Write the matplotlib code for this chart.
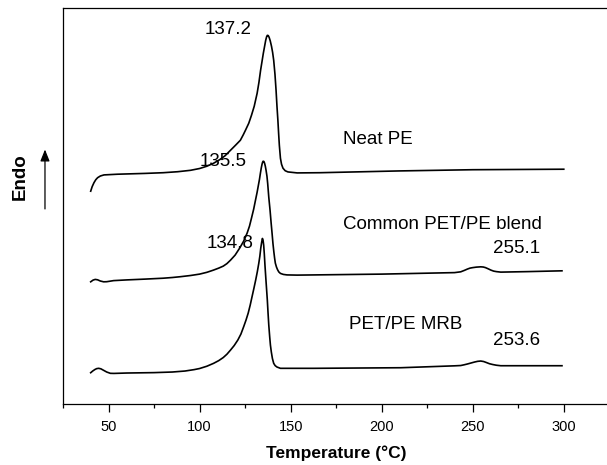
import numpy as np
import matplotlib
matplotlib.use("Agg")
from matplotlib import pyplot as plt
from matplotlib.ticker import MultipleLocator

plt.rcParams['font.family'] = ['Liberation Sans', 'DejaVu Sans']

# DSC heating curves, heat flow in arbitrary units (endo up, curves offset)
t_neat = [40.2, 41, 42, 43, 44, 45.5, 47.5, 55, 70, 80, 88, 95, 100, 104, 107.7, 111, 114,
          117, 120, 122.4, 124, 125.2, 127, 128.5, 130, 131.6, 132.6, 133.5, 134.3, 135,
          135.7, 136.3, 136.8, 137.2, 137.7, 138.2, 138.8, 139.5, 140.1, 140.7, 141.4, 142,
          142.5, 143, 143.4, 143.8, 144.4, 145, 145.8, 147, 148.5, 150, 153.6, 166, 210,
          250, 300]
h_neat = [213, 217.5, 221.5, 224.5, 226.5, 228.2, 229.3, 230, 230.8, 231.5, 232.5, 233.9,
          235.7, 238, 241, 244.5, 248.5, 254, 259.5, 264, 269.5, 274, 281, 289, 298, 311,
          322, 334, 343, 351, 358, 364, 367.5, 369, 368.8, 367, 363.5, 358, 352, 344, 330,
          314, 298, 284, 271, 259, 246, 240, 236, 233.5, 232.3, 232, 231.3, 231.5, 233.3,
          234.5, 235]

t_blend = [40.2, 41.5, 42.7, 44, 45.5, 47.3, 49, 52.8, 60, 70, 80, 85, 89.4, 95, 100, 104,
           107.6, 110.5, 113, 115, 117, 119.5, 122, 124.2, 126.1, 127.4, 128.5, 129.7, 130.7,
           131.6, 132.3, 132.9, 133.4, 133.9, 134.3, 134.6, 134.9, 135.3, 135.7, 136.1, 136.5,
           137, 137.4, 138, 138.7, 139.3, 139.8, 140.3, 140.8, 141.2, 141.6, 142.2, 142.8,
           143.5, 144.4, 146, 148, 153.6, 200, 240, 243.4, 245.5, 247, 248.5, 250, 252, 254.4,
           255.8, 257, 258.5, 260, 261.5, 263, 265.4, 280, 299]
h_blend = [122.3, 124, 124.7, 124.3, 123.1, 122.3, 122.4, 123.5, 124.2, 125, 125.9, 126.6,
           127.4, 128.6, 130, 131.8, 134, 136, 138, 140.5, 144, 149, 156, 163, 171, 178, 186,
           195, 204, 212, 219, 225, 231, 236.5, 240, 242, 243, 242.8, 241, 238, 234, 228,
           220.7, 207, 194, 181, 171, 160.5, 152, 146, 141, 137.2, 134.5, 132.2, 130.7,
           129.7, 129.2, 129, 130, 131.5, 132.3, 133.8, 135, 136, 136.5, 137, 137.3, 137.1,
           136.5, 135.3, 134, 133, 132.5, 132, 132.5, 133.3]

t_mrb = [40.2, 41.3, 42.5, 43.5, 44.6, 45.8, 47, 49, 51, 53, 60, 75, 85, 92, 97, 100, 104,
         107.7, 110.5, 113, 115, 117, 119, 121, 122.7, 124.2, 125.5, 126.7, 127.8, 128.8,
         129.8, 130.8, 131.7, 132.5, 133.1, 133.6, 134.1, 134.5, 134.85, 135.2, 135.55,
         135.9, 136.3, 136.7, 137.2, 137.6, 138, 138.5, 138.9, 139.4, 140, 140.7, 141.5,
         142.5, 144.4, 162.7, 210.5, 240, 243.4, 245.2, 247, 249, 251, 252.7, 254.4, 256,
         257.5, 259.2, 261, 263, 265.4, 299]
h_mrb = [31.3, 33, 34.5, 35.4, 35.7, 35.2, 34, 32, 30.7, 30.6, 31, 31.4, 32, 33, 34.4, 35.5,
         37.8, 40.7, 43.4, 46.5, 49.8, 54, 58.5, 64, 70, 77.3, 84, 91, 99, 107.3, 115.5,
         124, 132.3, 140.7, 148, 156, 162, 165.7, 164, 159, 150, 139, 128, 117.3, 104, 91,
         79, 67.3, 59, 52, 45.5, 40.7, 38.4, 37, 35.7, 35.7, 36.3, 38.2, 38.5, 39.2, 40,
         41, 42, 42.7, 43, 42.5, 41.5, 40.3, 39.5, 38.8, 38.3, 38.3]

peak_labels = ["137.2", "135.5", "134.8", "255.1", "253.6"]
curve_names = ["Neat PE", "Common PET/PE blend", "PET/PE MRB"]

fig = plt.figure(figsize=(6.07, 4.65), dpi=100)
ax = fig.add_axes([0.1038, 0.1312, 0.9, 0.8508])

for t, h in [(t_neat, h_neat), (t_blend, h_blend), (t_mrb, h_mrb)]:
    ax.plot(t, h, color='black', lw=1.2)

ax.set_xlim(25, 325)
ax.set_ylim(0, 396)
ax.xaxis.set_major_locator(MultipleLocator(50))
ax.xaxis.set_minor_locator(MultipleLocator(25))
ax.tick_params(axis='x', which='major', direction='out', length=5.5, width=0.9, labelsize=10.5, pad=6)
ax.tick_params(axis='x', which='minor', direction='out', length=2.7, width=0.9)
ax.set_yticks([])
for s in ax.spines.values():
    s.set_linewidth(0.9)
ax.set_xlabel("Temperature (°C)", fontsize=12.5, fontweight='bold', labelpad=8)

fs = 13.5
ax.text(115.8, 375, peak_labels[0], fontsize=fs, ha='center', va='center')
ax.text(113, 242.5, peak_labels[1], fontsize=fs, ha='center', va='center')
ax.text(117, 161, peak_labels[2], fontsize=fs, ha='center', va='center')
ax.text(274, 156, peak_labels[3], fontsize=fs, ha='center', va='center')
ax.text(274, 64, peak_labels[4], fontsize=fs, ha='center', va='center')
ax.text(178.5, 265, curve_names[0], fontsize=fs, ha='left', va='center')
ax.text(178.5, 180, curve_names[1], fontsize=fs, ha='left', va='center')
ax.text(181.8, 80, curve_names[2], fontsize=fs, ha='left', va='center')

fig.text(0.033, 0.62, "Endo", rotation=90, fontsize=13.5, fontweight='bold', ha='center', va='center')
fig.patches.append(matplotlib.patches.FancyArrowPatch(
    (0.0741, 0.5447), (0.0741, 0.6845), transform=fig.transFigure,
    arrowstyle='-|>,head_length=0.5,head_width=0.2', mutation_scale=14, color='black', lw=0.9))

fig.savefig("out.png", dpi=100)
